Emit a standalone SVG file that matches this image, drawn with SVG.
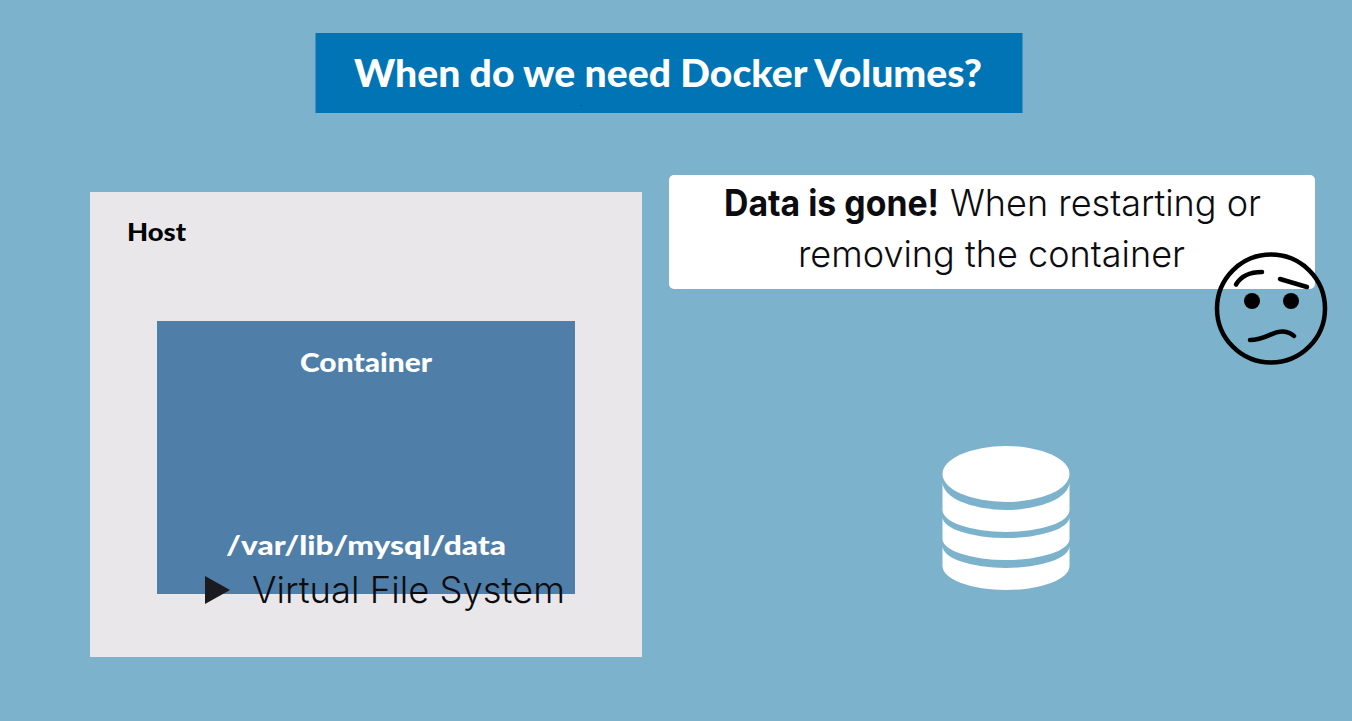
<svg xmlns="http://www.w3.org/2000/svg" width="1352" height="721" viewBox="0 0 1352 721">
<style>
.bold{font-family:"Lato","Liberation Sans",sans-serif;font-weight:900}
.plain{font-family:"Inter","Liberation Sans",Arial,sans-serif;font-weight:300;fill:#0c0c10}
.strong{font-family:"Inter","Liberation Sans",Arial,sans-serif;font-weight:700;fill:#0c0c10}
.face{fill:none;stroke:#000;stroke-width:4.500;stroke-linecap:round}
.bg{fill:#7cb2cb}
.db{fill:#fff}
</style>
<rect width="1352" height="721" class="bg"/>
<g id="title">
<rect x="315.500" y="33" width="707" height="80" fill="#0074b4"/>
<text x="668" y="87" text-anchor="middle" class="bold" font-size="37" fill="#fff" textLength="628" lengthAdjust="spacingAndGlyphs">When do we need Docker Volumes?</text>
<rect x="581" y="105" width="1" height="1" fill="#123a8a"/>
</g>
<g id="host">
<rect x="90" y="192" width="552" height="465" fill="#e9e7e9"/>
<text x="127" y="241" class="bold" font-size="25" fill="#000" textLength="59" lengthAdjust="spacingAndGlyphs">Host</text>
</g>
<g id="container">
<rect x="157" y="321" width="418" height="273" fill="#4f7ea9"/>
<text x="366" y="372" text-anchor="middle" class="bold" font-size="26" fill="#fff" textLength="132" lengthAdjust="spacingAndGlyphs">Container</text>
<text x="366" y="555" text-anchor="middle" class="bold" font-size="26" fill="#fff" textLength="280" lengthAdjust="spacingAndGlyphs">/var/lib/mysql/data</text>
</g>
<g id="vfs">
<polygon points="205,576 230,590 205,604" fill="#1a1a1f"/>
<text x="252" y="603" class="plain" font-size="37" textLength="313" lengthAdjust="spacingAndGlyphs">Virtual File System</text>
</g>
<g id="note">
<rect x="669" y="175" width="646" height="114" rx="5" fill="#fff"/>
<text x="724" y="216" class="strong" font-size="37" textLength="215" lengthAdjust="spacingAndGlyphs">Data is gone!</text>
<text x="950" y="216" class="plain" font-size="37" textLength="311" lengthAdjust="spacingAndGlyphs">When restarting or</text>
<text x="798" y="267" class="plain" font-size="37" textLength="387" lengthAdjust="spacingAndGlyphs">removing the container</text>
</g>
<g id="face">
<circle cx="1271" cy="308.500" r="54" class="face"/>
<path d="M1236 284.500C1241 276 1250 272 1262 272" class="face"/>
<path d="M1280 279L1307 287" class="face"/>
<circle cx="1252" cy="301" r="8"/>
<circle cx="1291" cy="301" r="8"/>
<path d="M1250 340C1266 340 1272 331 1283 331.500C1288 332 1292 334 1294 336" class="face"/>
</g>
<g id="database">
<ellipse cx="1006" cy="474" rx="63.500" ry="28" class="db"/>
<path d="M942.500 482A63.500 28 0 0 0 1069.500 482V510A63.500 22 0 0 1 942.500 510Z" class="db"/>
<path d="M942.500 517A63.500 21 0 0 0 1069.500 517V539A63.500 21 0 0 1 942.500 539Z" class="db"/>
<path d="M942.500 546A63.500 22 0 0 0 1069.500 546V566A63.500 24 0 0 1 942.500 566Z" class="db"/>
</g>
<g id="connectors"/>
</svg>
